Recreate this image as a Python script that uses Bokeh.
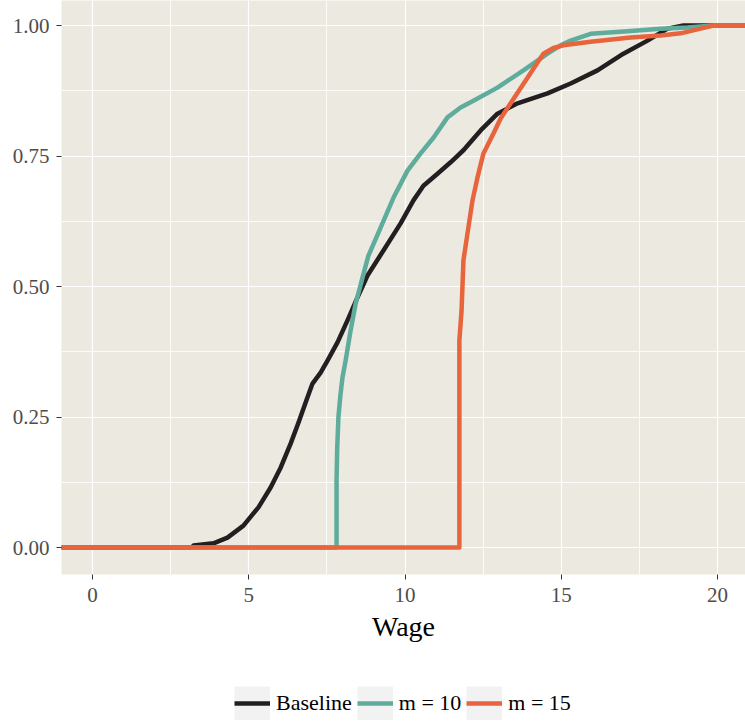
from bokeh.plotting import figure
from bokeh.layouts import column
from bokeh.models import Range1d, FixedTicker, PrintfTickFormatter, Legend, LegendItem
from bokeh.embed import file_html
from bokeh.resources import INLINE

# ---- data ----
baseline_wage = [-1.0, 3.2, 3.23, 3.87, 4.32, 4.83, 5.31, 5.70, 6.02, 6.34, 6.59, 6.82, 7.04, 7.30,
                 7.52, 7.84, 8.16, 8.48, 8.80, 9.31, 9.86, 10.27, 10.59, 11.04, 11.46, 11.87, 12.42,
                 12.96, 13.6, 14.56, 15.30, 16.16, 16.99, 17.76, 18.40, 18.91, 21.0]
baseline_cdf = [0.0, 0.0, 0.004, 0.008, 0.019, 0.042, 0.077, 0.115, 0.153, 0.199, 0.239, 0.278, 0.314,
                0.335, 0.358, 0.393, 0.435, 0.479, 0.521, 0.569, 0.621, 0.665, 0.693, 0.716, 0.738,
                0.761, 0.799, 0.831, 0.851, 0.870, 0.889, 0.914, 0.946, 0.971, 0.994, 1.0, 1.0]

m10_wage = [-1.0, 7.81, 7.81, 7.83, 7.87, 7.93, 8.0, 8.10, 8.26, 8.42, 8.64, 8.83, 9.22, 9.63, 10.08,
            10.50, 10.91, 11.36, 11.78, 12.19, 12.96, 13.79, 14.56, 14.98, 15.30, 15.94, 17.12, 18.18,
            19.04, 19.87, 21.0]
m10_cdf = [0.0, 0.0, 0.13, 0.19, 0.25, 0.29, 0.326, 0.358, 0.416, 0.467, 0.517, 0.559, 0.613, 0.670,
           0.722, 0.755, 0.785, 0.824, 0.843, 0.856, 0.881, 0.914, 0.946, 0.962, 0.971, 0.984, 0.989,
           0.994, 0.996, 1.0, 1.0]

m15_wage = [-1.0, 11.74, 11.74, 11.81, 11.87, 12.0, 12.16, 12.32, 12.51, 12.83, 13.06, 13.38, 13.92,
            14.24, 14.43, 14.75, 15.07, 15.94, 17.22, 18.18, 18.82, 19.46, 19.87, 21.0]
m15_cdf = [0.0, 0.0, 0.397, 0.454, 0.550, 0.602, 0.665, 0.709, 0.755, 0.793, 0.822, 0.851, 0.900,
           0.929, 0.946, 0.957, 0.962, 0.969, 0.977, 0.981, 0.985, 0.994, 1.0, 1.0]

series_labels = ["Baseline", "m = 10", "m = 15"]
x_ticks = [0, 5, 10, 15, 20]
x_minor = [2.5, 7.5, 12.5, 17.5]
y_ticks = [0.0, 0.25, 0.5, 0.75, 1.0]
y_minor = [0.125, 0.375, 0.625, 0.875]

colors = ["#231F20", "#5FAC9C", "#E8643C"]
FONT = "Liberation Serif"
LW = 4.5

# ---------------- main chart ----------------
p = figure(width=745, height=684, output_backend="svg", toolbar_location=None,
           x_range=Range1d(-0.992, 20.896), y_range=Range1d(-0.0517, 1.0479),
           min_border_left=61, min_border_right=0, min_border_top=0, min_border_bottom=110)
p.border_fill_color = "white"
p.background_fill_color = "#EBE9E0"
p.outline_line_color = None

p.xaxis.ticker = FixedTicker(ticks=x_ticks, minor_ticks=x_minor)
p.yaxis.ticker = FixedTicker(ticks=y_ticks, minor_ticks=y_minor)
p.yaxis.formatter = PrintfTickFormatter(format="%.2f")

for ax in (p.xaxis, p.yaxis):
    ax.axis_line_color = None
    ax.major_tick_line_color = "#333333"
    ax.major_tick_line_width = 1
    ax.major_tick_in = 0
    ax.major_tick_out = 5
    ax.minor_tick_line_color = None
    ax.major_label_text_font = FONT
    ax.major_label_text_font_size = "21px"
    ax.major_label_text_color = "#4D4D4D"
p.yaxis.major_label_standoff = 7
p.xaxis.major_label_standoff = 8
p.xaxis.axis_label = "Wage"
p.xaxis.axis_label_text_font = FONT
p.xaxis.axis_label_text_font_size = "28px"
p.xaxis.axis_label_text_font_style = "normal"
p.xaxis.axis_label_text_color = "black"
p.xaxis.axis_label_standoff = 6

for g in (p.xgrid, p.ygrid):
    g.grid_line_color = "white"
    g.grid_line_width = 1.2
    g.minor_grid_line_color = "white"
    g.minor_grid_line_width = 0.8

p.line(baseline_wage, baseline_cdf, line_color=colors[0], line_width=LW, line_join="round")
p.line(m10_wage, m10_cdf, line_color=colors[1], line_width=LW, line_join="round")
p.line(m15_wage, m15_cdf, line_color=colors[2], line_width=LW, line_join="round")

# ---------------- legend strip ----------------
lg = figure(width=745, height=37, output_backend="svg", toolbar_location=None,
            x_range=Range1d(0, 1), y_range=Range1d(0, 1),
            min_border_left=0, min_border_right=0, min_border_top=0, min_border_bottom=0)
lg.axis.visible = False
lg.grid.visible = False
lg.outline_line_color = None
lg.background_fill_color = "white"
lg.border_fill_color = "white"

items = []
for i in range(3):
    # key background and key line (their data lies outside the visible range)
    bg = lg.line([-10, -9], [-10, -10], line_color="#F2F2F2", line_width=34, line_cap="butt")
    ln = lg.line([-10, -9], [-10, -10], line_color=colors[i], line_width=LW)
    items.append(LegendItem(label=series_labels[i], renderers=[bg, ln]))

legend = Legend(items=items, orientation="horizontal", location=(173, 1),
                glyph_width=36, glyph_height=34, label_standoff=6, spacing=5,
                padding=0, margin=0, background_fill_alpha=0, border_line_color=None,
                label_text_font=FONT, label_text_font_size="22px", label_text_color="black")
lg.add_layout(legend, "center")

open("out.html", "w").write(file_html(column(p, lg, spacing=0), INLINE))
